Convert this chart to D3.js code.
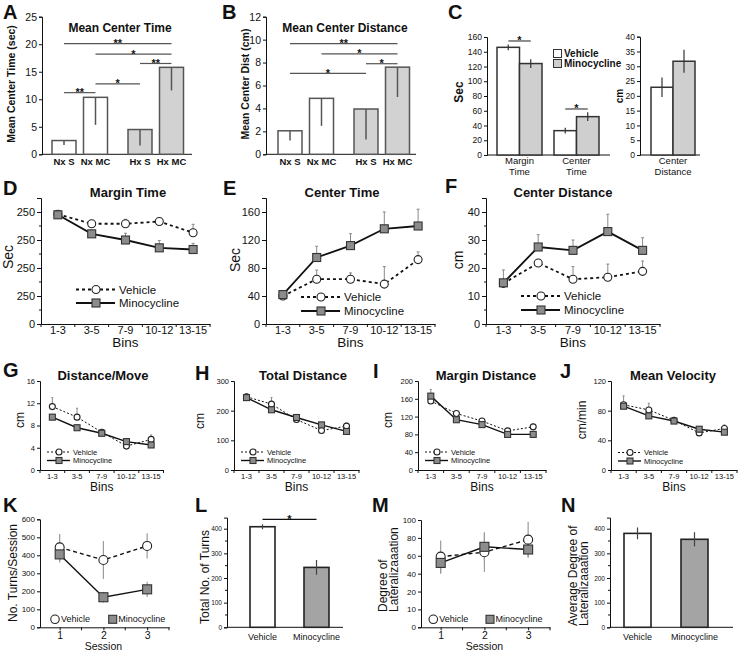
<!DOCTYPE html>
<html>
<head>
<meta charset="utf-8">
<script src="https://cdn.jsdelivr.net/npm/d3@7"></script>
<style>
  body { margin: 0; background: #fff; }
  svg { display: block; font-family: "Liberation Sans", Arial, sans-serif; }
</style>
</head>
<body>
<div id="fig"></div>
<script>
// ---- values ----
const abConds = ["Nx", "Hx"];
const abTreat = ["S", "MC"];
const abLabels = ["Nx S", "Nx MC", "Hx S", "Hx MC"];
const centerTimeMean = [2.5, 10.35, 4.5, 15.8];
const centerTimeErr = [0.8, 5.0, 2.9, 4.2];
const centerTimeSig = [[0, 1, 11.2, "**"], [1, 2, 12.8, "*"], [2, 3, 16.5, "**"], [1, 3, 18.2, "*"], [0, 3, 20.1, "**"]];
const centerDistMean = [2.05, 4.88, 3.95, 7.6];
const centerDistErr = [0.85, 2.4, 2.65, 2.6];
const centerDistSig = [[0, 3, 9.65, "**"], [1, 3, 8.75, "*"], [2, 3, 7.9, "*"], [0, 2, 7.05, "*"]];

const groups = ["Vehicle", "Minocycline"];
const cMeasures = ["Margin Time", "Center Time"];
const cVehicle = [146, 33], cVehicleErr = [4, 4];
const cMino = [124, 52], cMinoErr = [6, 6];
const cSig = [154.6, 62.4];
const cDist = [22.9, 31.7], cDistErr = [3.3, 3.9];

const bins = ["1-3", "3-5", "7-9", "10-12", "13-15"];
const marginTimeTicks = [0, 50, 100, 150, 200];
const marginTimeTickLabels = ["0", "250", "250", "250", "250"];
const marginTimeVeh = [196, 179, 179, 183, 163], marginTimeVehErr = [4, 0, 8, 5, 15];
const marginTimeMino = [195, 161, 150, 136, 133], marginTimeMinoErr = [2, 0, 12, 13, 11];
const binCenterTimeVeh = [40, 64, 64, 57, 92], binCenterTimeVehErr = [3, 13, 9, 25, 11];
const binCenterTimeMino = [42, 95, 112, 136, 140], binCenterTimeMinoErr = [3, 16, 17, 24, 24];
const binCenterDistVeh = [14.5, 21.8, 16, 16.7, 18.8], binCenterDistVehErr = [4.8, 0, 4.5, 4.7, 3.7];
const binCenterDistMino = [14.7, 27.5, 26.3, 33, 26.3], binCenterDistMinoErr = [0, 4.4, 3.7, 6.2, 4.5];

const distMoveVeh = [11.4, 9.5, 6.8, 4.3, 5.5], distMoveVehErr = [1.6, 1.6, 0.5, 0.5, 0.8];
const distMoveMino = [9.5, 7.6, 6.6, 5.1, 4.5], distMoveMinoErr = [0.5, 0.5, 0.4, 0.5, 0.3];
const totalDistVeh = [247, 222, 170, 133, 148], totalDistVehErr = [10, 22, 12, 8, 10];
const totalDistMino = [244, 203, 177, 152, 130], totalDistMinoErr = [8, 6, 6, 6, 6];
const marginDistVeh = [155, 127, 110, 88, 97], marginDistVehErr = [5, 5, 6, 4, 6];
const marginDistMino = [166, 113, 102, 80, 80], marginDistMinoErr = [15, 5, 4, 3, 3];
const velocityVeh = [88, 81, 67, 50, 56], velocityVehErr = [12, 9, 4, 3, 5];
const velocityMino = [86, 73, 66, 55, 51], velocityMinoErr = [4, 3, 3, 3, 3];

const sessions = [1, 2, 3];
const turnsTicks = [0, 100, 200, 300, 400, 500, 600];
const turnsVeh = [444, 374, 452], turnsVehErr = [75, 105, 70];
const turnsMino = [405, 167, 211], turnsMinoErr = [45, 30, 42];
const totalTurns = [408, 243], totalTurnsErr = [10, 30];
const totalTurnsSig = 438;
const latTicks = [0, 10, 20, 40, 60, 80, 100];
const latVeh = [59, 64, 78], latVehErr = [18, 22, 20];
const latMino = [52, 70, 67], latMinoErr = [12, 16, 9];
const avgLat = [381, 357], avgLatErr = [24, 29];

// ---- drawing ----
const svg = d3.select("#fig").append("svg").attr("width", 738).attr("height", 651);
svg.append("rect").attr("width", 738).attr("height", 651).attr("fill", "#fff");

const ink = "#111";
const errGray = "#8a8a8a";

function label(x, y, s, size, o = {}) {
  const t = svg.append("text")
    .attr("x", x).attr("y", y)
    .attr("font-size", size)
    .attr("font-weight", o.bold ? "bold" : "normal")
    .attr("text-anchor", o.anchor || "middle")
    .attr("fill", ink)
    .text(s);
  if (o.rotate) t.attr("transform", `rotate(-90,${x},${y})`);
  if (o.dy) t.attr("dy", o.dy);
  return t;
}

function letter(s, x, y) { label(x, y, s, 20, { bold: true, anchor: "start" }); }

function leftAxis(x, y, o) {
  const ax = d3.axisLeft(y).tickSizeOuter(0).tickSize(o.tick || 3).tickPadding(o.pad || 2)
    .tickFormat(o.labels ? (d, i) => o.labels[i] : d3.format("d"));
  if (o.values) ax.tickValues(o.values);
  const g = svg.append("g").attr("transform", `translate(${x},0)`).call(ax)
    .attr("font-family", null).attr("font-size", o.size).attr("color", ink);
  g.selectAll(".minor").data(o.minor || []).enter().append("line").attr("class", "minor")
    .attr("x1", -2).attr("x2", 0).attr("y1", d => y(d)).attr("y2", d => y(d)).attr("stroke", ink);
  return g;
}

function hLine(x1, x2, y, color, w) {
  return svg.append("line").attr("x1", x1).attr("x2", x2).attr("y1", y).attr("y2", y)
    .attr("stroke", color || ink).attr("stroke-width", w || 1);
}

function marker(g, kind, x, y, size) {
  if (kind === "circle") {
    g.append("circle").attr("cx", x).attr("cy", y).attr("r", size / 2)
      .attr("fill", "#fff").attr("stroke", "#222").attr("stroke-width", 1.1);
  } else {
    g.append("rect").attr("x", x - size / 2).attr("y", y - size / 2).attr("width", size).attr("height", size)
      .attr("fill", "#8c8c8c").attr("stroke", "#333").attr("stroke-width", 1.1);
  }
}

// A, B: mean bars with significance lines
function meanBarPanel(p) {
  const y = d3.scaleLinear().domain([0, p.top]).range([154.3, 16.7]);
  const outer = d3.scaleBand().domain(abConds).range([p.first, p.first + 76 + 55.5]).paddingInner(1 - 55.5 / 76);
  const inner = d3.scaleBand().domain(abTreat).range([0, 55.5]).paddingInner(1 - 24 / 31.5);
  const bars = abLabels.map((lab, i) => ({ lab, c: abConds[i >> 1], t: abTreat[i % 2], v: p.mean[i], e: p.err[i] }));
  const bx = d => outer(d.c) + inner(d.t);
  const mid = d => bx(d) + inner.bandwidth() / 2;

  leftAxis(p.left, y, { values: d3.range(0, p.top + 0.01, p.step), size: 10.5, tick: 3 });
  hLine(p.left, p.right, y(0));

  svg.append("g").selectAll("rect").data(bars).enter().append("rect")
    .attr("x", bx).attr("y", d => y(d.v))
    .attr("width", inner.bandwidth()).attr("height", d => y(0) - y(d.v))
    .attr("fill", d => d.c === "Hx" ? "#d2d2d2" : "#fff")
    .attr("stroke", "#555").attr("stroke-width", 1.5);
  svg.append("g").selectAll("line").data(bars).enter().append("line")
    .attr("x1", mid).attr("x2", mid)
    .attr("y1", d => y(d.v)).attr("y2", d => y(d.v - d.e))
    .attr("stroke", "#555").attr("stroke-width", 1.5);

  p.sig.forEach(([a, b, v, s]) => {
    hLine(mid(bars[a]), mid(bars[b]), y(v), "#555", 1.2);
    label((mid(bars[a]) + mid(bars[b])) / 2, y(v) + 3.5, s, 11, { bold: true });
  });
  bars.forEach(d => label(mid(d), 165, d.lab, 9.5, { bold: true }));
  label(p.titleX, 31.5, p.title, 12, { bold: true });
  label(p.ylabX, 84, p.ylab, 10.5, { bold: true, rotate: true });
  letter(p.letter, p.letterX, 19);
}

meanBarPanel({ letter: "A", letterX: 3, left: 42, right: 192, first: 52, top: 25, step: 5,
  mean: centerTimeMean, err: centerTimeErr, sig: centerTimeSig,
  title: "Mean Center Time", titleX: 120, ylab: "Mean Center Time (sec)", ylabX: 14.5 });
meanBarPanel({ letter: "B", letterX: 222, left: 266, right: 416, first: 278, top: 12, step: 2,
  mean: centerDistMean, err: centerDistErr, sig: centerDistSig,
  title: "Mean Center Distance", titleX: 345, ylab: "Mean Center Dist (cm)", ylabX: 248.5 });

// C: margin / center time and center distance
(function () {
  const y = d3.scaleLinear().domain([0, 160]).range([155, 37]);
  const outer = d3.scaleBand().domain(cMeasures).range([497, 497 + 57 + 45]).paddingInner(1 - 45 / 57);
  const inner = d3.scaleBand().domain(groups).range([0, 45]);
  const fill = g => g === "Vehicle" ? "#fff" : "#cfcfcf";
  leftAxis(487, y, { values: d3.range(0, 161, 20), size: 8.5, tick: 3 });
  hLine(487, 610, y(0));

  const bars = [];
  cMeasures.forEach((m, i) => {
    bars.push({ m, g: "Vehicle", v: cVehicle[i], e: cVehicleErr[i] });
    bars.push({ m, g: "Minocycline", v: cMino[i], e: cMinoErr[i] });
  });
  const bx = d => outer(d.m) + inner(d.g);
  const mid = d => bx(d) + inner.bandwidth() / 2;
  svg.append("g").selectAll("rect").data(bars).enter().append("rect")
    .attr("x", bx).attr("y", d => y(d.v)).attr("width", inner.bandwidth()).attr("height", d => y(0) - y(d.v))
    .attr("fill", d => fill(d.g)).attr("stroke", "#333").attr("stroke-width", 1.5);
  svg.append("g").selectAll("line").data(bars).enter().append("line")
    .attr("x1", mid).attr("x2", mid).attr("y1", d => y(d.v + d.e)).attr("y2", d => y(d.v - d.e))
    .attr("stroke", "#333").attr("stroke-width", 1.2);
  cMeasures.forEach((m, i) => {
    const a = mid(bars[i * 2]), b = mid(bars[i * 2 + 1]);
    hLine(a, b, y(cSig[i]), "#444", 1.2);
    label((a + b) / 2, y(cSig[i]) + 3.5, "*", 11, { bold: true });
    const cx = outer(m) + outer.bandwidth() / 2;
    label(cx, 164, m.split(" ")[0], 9.5);
    label(cx, 174.5, m.split(" ")[1], 9.5);
  });
  label(462.5, 92, "Sec", 12, { bold: true, rotate: true });

  // legend
  groups.forEach((g, i) => {
    svg.append("rect").attr("x", 553.5).attr("y", 49.5 + i * 10).attr("width", 8).attr("height", 8)
      .attr("fill", fill(g)).attr("stroke", "#333").attr("stroke-width", 1);
    label(564, 57 + i * 9.5, g, 10, { bold: true, anchor: "start" });
  });

  // distance
  const y2 = d3.scaleLinear().domain([0, 40]).range([155, 36.7]);
  const xb = d3.scaleBand().domain(groups).range([651, 695]);
  leftAxis(640, y2, { values: d3.range(0, 41, 5), size: 8.5, tick: 3 });
  hLine(640, 700, y2(0));
  const dist = groups.map((g, i) => ({ g, v: cDist[i], e: cDistErr[i] }));
  svg.append("g").selectAll("rect").data(dist).enter().append("rect")
    .attr("x", d => xb(d.g)).attr("y", d => y2(d.v)).attr("width", xb.bandwidth()).attr("height", d => y2(0) - y2(d.v))
    .attr("fill", d => fill(d.g)).attr("stroke", "#333").attr("stroke-width", 1.5);
  svg.append("g").selectAll("line").data(dist).enter().append("line")
    .attr("x1", d => xb(d.g) + xb.bandwidth() / 2).attr("x2", d => xb(d.g) + xb.bandwidth() / 2)
    .attr("y1", d => y2(d.v + d.e)).attr("y2", d => y2(d.v - d.e))
    .attr("stroke", "#333").attr("stroke-width", 1.2);
  label(673, 164, "Center", 9.5);
  label(673, 174.5, "Distance", 9.5);
  label(623, 96, "cm", 10, { bold: true, rotate: true });
  letter("C", 448, 18.5);
})();

// D-J: values over bins
function binAxis(x, base, st) {
  const g = svg.append("g").attr("transform", `translate(0,${base})`)
    .call(d3.axisBottom(x).tickSize(0).tickPadding(st.xPad).tickSizeOuter(0))
    .attr("font-family", null).attr("font-size", st.xSize).attr("color", ink);
  const edges = x.domain().map(d => x(d)).concat([x.range()[1]]);
  g.selectAll(".edge").data(edges).enter().append("line").attr("class", "edge")
    .attr("x1", d => d).attr("x2", d => d).attr("y1", 0).attr("y2", 3).attr("stroke", ink);
}

function trendPanel(p, st) {
  const x = d3.scaleBand().domain(bins).range([p.left, p.right]);
  const y = d3.scaleLinear().domain([0, p.top]).range([st.base, st.ceil]);
  const cx = b => x(b) + x.bandwidth() / 2;
  leftAxis(p.left, y, { values: p.ticks, labels: p.tickLabels, minor: p.minor, size: st.tick, tick: st.tickLen });
  binAxis(x, st.base, st);

  const series = [
    { name: "Minocycline", kind: "rect", v: p.mino, e: p.minoErr, dash: null, w: st.minoW },
    { name: "Vehicle", kind: "circle", v: p.veh, e: p.vehErr, dash: st.dash, w: st.vehW }
  ];
  series.forEach(s => {
    const pts = bins.map((b, i) => ({ b, v: s.v[i], e: s.e[i] })).filter(d => d.e > 0);
    const eg = svg.append("g").attr("stroke", errGray).attr("stroke-width", 1);
    eg.selectAll(".bar").data(pts).enter().append("line").attr("class", "bar")
      .attr("x1", d => cx(d.b)).attr("x2", d => cx(d.b))
      .attr("y1", d => y(d.v)).attr("y2", d => y(d.v + d.e));
    eg.selectAll(".cap").data(pts).enter().append("line").attr("class", "cap")
      .attr("x1", d => cx(d.b) - st.cap).attr("x2", d => cx(d.b) + st.cap)
      .attr("y1", d => y(d.v + d.e)).attr("y2", d => y(d.v + d.e));
  });
  const line = d3.line().x(d => cx(d.b)).y(d => y(d.v));
  series.forEach(s => {
    svg.append("path").datum(bins.map((b, i) => ({ b, v: s.v[i] })))
      .attr("d", line).attr("fill", "none").attr("stroke", "#111")
      .attr("stroke-width", s.w).attr("stroke-dasharray", s.dash);
  });
  [series[1], series[0]].forEach(s => {
    const g = svg.append("g");
    bins.forEach((b, i) => marker(g, s.kind, cx(b), y(s.v[i]), s.kind === "circle" ? st.r * 2 : st.sq));
  });

  // legend
  [series[1], series[0]].forEach((s, i) => {
    const ly = p.legY[i];
    hLine(p.left + st.leg[0], p.left + st.leg[1], ly, "#111", s.w).attr("stroke-dasharray", s.dash);
    marker(svg.append("g"), s.kind, p.left + st.leg[2], ly, s.kind === "circle" ? st.r * 2 : st.sq);
    label(p.left + st.leg[3], ly, s.name, st.legSize, { anchor: "start", dy: "0.35em" });
  });

  label((p.left + p.right) / 2, st.base + st.binDy, "Bins", st.binSize);
  label(p.titleX, st.titleY, p.title, 13, { bold: true });
  label(p.ylabX, p.ylabY, p.ylab, st.ylabSize, { rotate: true });
  letter(p.letter, p.letterX, p.letterY);
}

const st2 = { base: 324, ceil: 198, tick: 11, tickLen: 4, xSize: 11, xPad: 2, binSize: 13.5, binDy: 23,
  titleY: 197, ylabSize: 14, sq: 8, r: 4, vehW: 1.8, minoW: 1.8, dash: "3,3", cap: 1.5,
  legSize: 11.5, leg: [35, 74, 55, 78] };
const st3 = { base: 470, ceil: 381, tick: 7.5, tickLen: 3, xSize: 7.5, xPad: 4, binSize: 12, binDy: 21,
  titleY: 380, ylabSize: 12, sq: 6, r: 3, vehW: 1, minoW: 1.4, dash: "2,2", cap: 1,
  legSize: 7.5, leg: [7, 30, 19, 33] };

trendPanel({ letter: "D", letterX: 3, letterY: 195, left: 41, right: 210, top: 225,
  ticks: marginTimeTicks, tickLabels: marginTimeTickLabels, minor: [25, 75, 125, 175],
  veh: marginTimeVeh, vehErr: marginTimeVehErr, mino: marginTimeMino, minoErr: marginTimeMinoErr,
  title: "Margin Time", titleX: 128, ylab: "Sec", ylabX: 13, ylabY: 257, legY: [289.5, 303] }, st2);
trendPanel({ letter: "E", letterX: 223, letterY: 195, left: 266, right: 435, top: 180,
  ticks: [0, 40, 80, 120, 160],
  veh: binCenterTimeVeh, vehErr: binCenterTimeVehErr, mino: binCenterTimeMino, minoErr: binCenterTimeMinoErr,
  title: "Center Time", titleX: 342, ylab: "Sec", ylabX: 240, ylabY: 260, legY: [297, 311] }, st2);
trendPanel({ letter: "F", letterX: 445, letterY: 193, left: 486, right: 660, top: 45,
  ticks: [0, 10, 20, 30, 40], minor: [5, 15, 25, 35],
  veh: binCenterDistVeh, vehErr: binCenterDistVehErr, mino: binCenterDistMino, minoErr: binCenterDistMinoErr,
  title: "Center Distance", titleX: 563, ylab: "cm", ylabX: 463, ylabY: 260, legY: [296, 310] }, st2);

trendPanel({ letter: "G", letterX: 3, letterY: 377, left: 40, right: 163.5, top: 16,
  ticks: [0, 4, 8, 12, 16],
  veh: distMoveVeh, vehErr: distMoveVehErr, mino: distMoveMino, minoErr: distMoveMinoErr,
  title: "Distance/Move", titleX: 103, ylab: "cm", ylabX: 24, ylabY: 420, legY: [452, 460.5] }, st3);
trendPanel({ letter: "H", letterX: 195, letterY: 380, left: 234, right: 359, top: 300,
  ticks: [0, 100, 200, 300],
  veh: totalDistVeh, vehErr: totalDistVehErr, mino: totalDistMino, minoErr: totalDistMinoErr,
  title: "Total Distance", titleX: 303, ylab: "cm", ylabX: 204, ylabY: 421, legY: [452, 460.5] }, st3);
trendPanel({ letter: "I", letterX: 373, letterY: 378, left: 418, right: 546, top: 200,
  ticks: [0, 40, 80, 120, 160, 200],
  veh: marginDistVeh, vehErr: marginDistVehErr, mino: marginDistMino, minoErr: marginDistMinoErr,
  title: "Margin Distance", titleX: 486, ylab: "cm", ylabX: 392, ylabY: 420, legY: [452, 460.5] }, st3);
trendPanel({ letter: "J", letterX: 560, letterY: 378, left: 611, right: 737, top: 120,
  ticks: [0, 40, 80, 120],
  veh: velocityVeh, vehErr: velocityVehErr, mino: velocityMino, minoErr: velocityMinoErr,
  title: "Mean Velocity", titleX: 673, ylab: "cm/min", ylabX: 586, ylabY: 420, legY: [452.5, 461] }, st3);

// K, M: per session
const row4Base = 627.3;
function sessionPanel(p) {
  const x = d3.scaleLinear().domain([0.55, 3.5]).range([p.left, p.left + 129]);
  const y = p.y;
  leftAxis(p.left, y, { values: p.ticks, size: 8, tick: 3 });
  const gx = svg.append("g").attr("transform", `translate(0,${row4Base})`)
    .call(d3.axisBottom(x).tickValues(sessions).tickSize(3).tickPadding(1).tickSizeOuter(0).tickFormat(d3.format("d")))
    .attr("font-family", null).attr("font-size", 10.5).attr("color", ink);
  gx.selectAll(".minor").data(sessions.map(d => d + 0.5)).enter().append("line").attr("class", "minor")
    .attr("x1", d => x(d)).attr("x2", d => x(d)).attr("y1", 0).attr("y2", 3).attr("stroke", ink);

  const series = [
    { kind: "rect", v: p.mino, e: p.minoErr, dash: null },
    { kind: "circle", v: p.veh, e: p.vehErr, dash: "4,3" }
  ];
  series.forEach(s => {
    svg.append("g").selectAll("line").data(sessions.map((d, i) => ({ d, v: s.v[i], e: s.e[i] }))).enter().append("line")
      .attr("x1", d => x(d.d)).attr("x2", d => x(d.d))
      .attr("y1", d => y(d.v + d.e)).attr("y2", d => y(d.v - d.e))
      .attr("stroke", "#9a9a9a").attr("stroke-width", 1.2);
  });
  const line = d3.line().x(d => x(d.d)).y(d => y(d.v));
  series.forEach(s => {
    svg.append("path").datum(sessions.map((d, i) => ({ d, v: s.v[i] })))
      .attr("d", line).attr("fill", "none").attr("stroke", "#111").attr("stroke-width", 1.4)
      .attr("stroke-dasharray", s.dash);
  });
  [series[1], series[0]].forEach(s => {
    const g = svg.append("g");
    sessions.forEach((d, i) => marker(g, s.kind, x(d), y(s.v[i]), 9));
  });

  const ly = 619.3;
  marker(svg.append("g"), "circle", p.left + p.leg[0], ly, 8.5);
  label(p.left + p.leg[0] + 6, ly, "Vehicle", 9, { anchor: "start", dy: "0.35em" });
  marker(svg.append("g"), "rect", p.left + p.leg[1], ly, 8);
  label(p.left + p.leg[1] + 5.5, ly, "Minocycline", 9, { anchor: "start", dy: "0.35em" });
  label(x(2), 650, "Session", 10.5);
  letter(p.letter, p.letterX, 511.7);
}

sessionPanel({ letter: "K", letterX: 3, left: 40,
  y: d3.scaleLinear().domain([0, 600]).range([row4Base, 519.3]), ticks: turnsTicks,
  veh: turnsVeh, vehErr: turnsVehErr, mino: turnsMino, minoErr: turnsMinoErr, leg: [15, 72.7] });
label(17, 573, "No. Turns/Session", 12, { rotate: true });

sessionPanel({ letter: "M", letterX: 372, left: 421,
  y: d3.scaleLinear().domain(latTicks).range(latTicks.map((d, i) => row4Base - i * (row4Base - 520) / (latTicks.length - 1))),
  ticks: latTicks,
  veh: latVeh, vehErr: latVehErr, mino: latMino, minoErr: latMinoErr, leg: [12.3, 69] });
label(387, 612, "Degree of", 12, { rotate: true, anchor: "start" });
label(398, 612, "Lateralizaaation", 12, { rotate: true, anchor: "start" });

// L, N: vehicle vs minocycline bars
function pairBarPanel(p) {
  const y = d3.scaleLinear().domain([0, 445]).range([row4Base, row4Base - 445 * 0.2465]);
  const x = d3.scaleBand().domain(groups).range([p.first, p.first + p.step + p.width]).paddingInner(1 - p.width / p.step);
  leftAxis(p.left, y, { values: d3.range(0, 401, 100), minor: d3.range(50, 400, 100), size: 6.5, tick: 3 });
  hLine(p.left, p.right, row4Base);
  const bars = groups.map((g, i) => ({ g, v: p.vals[i], e: p.errs[i] }));
  const mid = d => x(d.g) + x.bandwidth() / 2;
  svg.append("g").selectAll("rect").data(bars).enter().append("rect")
    .attr("x", d => x(d.g)).attr("y", d => y(d.v)).attr("width", x.bandwidth()).attr("height", d => y(0) - y(d.v))
    .attr("fill", d => d.g === "Vehicle" ? "#fff" : "#a4a4a4").attr("stroke", "#222").attr("stroke-width", 1.6);
  svg.append("g").selectAll("line").data(bars).enter().append("line")
    .attr("x1", mid).attr("x2", mid).attr("y1", d => y(d.v + d.e)).attr("y2", d => y(d.v - d.e))
    .attr("stroke", "#444").attr("stroke-width", 1.2);
  bars.forEach(d => label(mid(d), 640, d.g, 9));
  if (p.sig) {
    hLine(mid(bars[0]), mid(bars[1]), y(p.sig), "#111", 1.2);
    label((mid(bars[0]) + mid(bars[1])) / 2, y(p.sig) + 3.5, "*", 11, { bold: true });
  }
  letter(p.letter, p.letterX, 511.7);
}

pairBarPanel({ letter: "L", letterX: 195, left: 227, right: 343, first: 250, step: 54, width: 25,
  vals: totalTurns, errs: totalTurnsErr, sig: totalTurnsSig });
label(209, 577, "Total No. of Turns", 12, { rotate: true });

pairBarPanel({ letter: "N", letterX: 561, left: 610, right: 733, first: 624, step: 57, width: 27,
  vals: avgLat, errs: avgLatErr });
label(577, 626, "Average Degree of", 12, { rotate: true, anchor: "start" });
label(588, 626, "Lateralizaaation", 12, { rotate: true, anchor: "start" });
</script>
</body>
</html>
